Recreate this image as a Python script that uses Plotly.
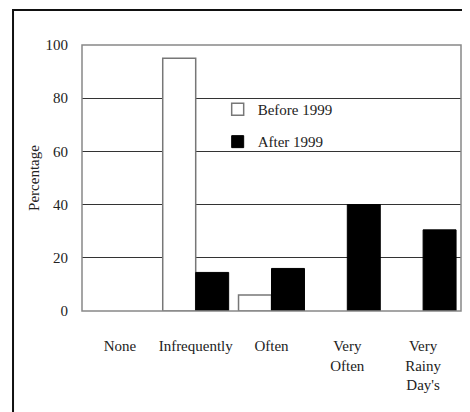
import plotly.graph_objects as go

categories = ["None", "Infrequently", "Often", "Very<br>Often", "Very<br>Rainy<br>Day's"]
before_1999 = [None, 95, 6, None, None]
after_1999 = [None, 14.5, 16, 40, 30.5]
y_ticks = [0, 20, 40, 60, 80, 100]

FONT = "Liberation Serif"

fig = go.Figure()
fig.add_trace(go.Bar(
    x=categories, y=before_1999, name="Before 1999",
    marker=dict(color="white", line=dict(color="#777777", width=1.5)),
    legendgroup="a",
))
fig.add_trace(go.Bar(
    x=categories, y=after_1999, name="After 1999",
    marker=dict(color="black", line=dict(color="black", width=1)),
    legendgroup="b",
))

fig.update_layout(
    width=470, height=412,
    margin=dict(l=74, r=17, t=37, b=109, autoexpand=False),
    paper_bgcolor="white", plot_bgcolor="white",
    barmode="group", bargap=0.13, bargroupgap=0,
    font=dict(family=FONT, color="#222222", size=14),
    showlegend=True,
    legend=dict(
        x=0.358, y=0.82, xanchor="left", yanchor="top",
        bgcolor="rgba(0,0,0,0)", traceorder="grouped", tracegroupgap=10,
        font=dict(family=FONT, size=15, color="#222222"),
    ),
    xaxis=dict(
        tickvals=categories, ticktext=categories, showgrid=False,
        showline=False, ticks="", ticklabelstandoff=24,
        tickfont=dict(family=FONT, size=15),
    ),
    yaxis=dict(
        range=[0, 100], tickvals=y_ticks, showgrid=True,
        gridcolor="#333333", gridwidth=1, zeroline=False,
        showline=False, ticks="", ticklabelstandoff=13,
        tickfont=dict(family=FONT, size=15),
        title=dict(text="Percentage", font=dict(family=FONT, size=15), standoff=2),
    ),
    shapes=[
        dict(type="rect", xref="paper", yref="paper", x0=0, x1=1, y0=0, y1=1,
             line=dict(color="#888888", width=1.5), layer="above"),
        dict(type="rect", xref="paper", yref="paper", x0=-0.182, x1=1.2, y0=-0.5, y1=1.1316,
             line=dict(color="#111111", width=2), layer="above"),
    ],
)

fig.write_html("out.html")
